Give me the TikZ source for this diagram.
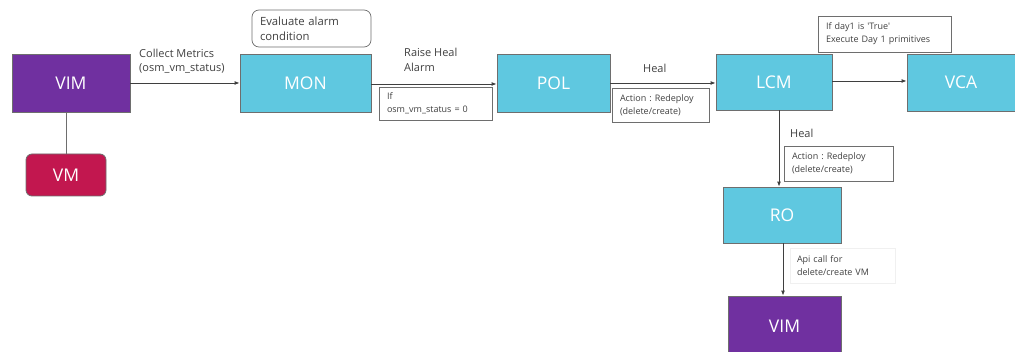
\documentclass[tikz,border=0pt]{standalone}
\usepackage{fontspec}
\setmainfont{Open Sans}
\usetikzlibrary{positioning}
\usetikzlibrary{arrows.meta}
\definecolor{vimpurple}{HTML}{7030A0}
\definecolor{osmcyan}{HTML}{5FC8E0}
\definecolor{vmred}{HTML}{C2174F}
\definecolor{edgegray}{HTML}{6E6E6E}
\definecolor{linegray}{HTML}{3F3F3F}
\definecolor{txtgray}{HTML}{404040}
\frenchspacing

\begin{document}
\begin{tikzpicture}[
    x=1pt, y=-1pt,
    block/.style={rectangle, draw=edgegray, line width=0.8pt, text=white, inner sep=0pt, font=\fontsize{17.5}{21}\selectfont},
    osm/.style={block, fill=osmcyan},
    vim/.style={block, fill=vimpurple},
    note/.style={rectangle, draw=edgegray, line width=0.7pt, fill=white, align=left, text=txtgray, inner xsep=8pt, inner ysep=0pt, font=\fontsize{9}{13}\selectfont},
    lbl/.style={align=left, text=txtgray, anchor=west, inner sep=0pt, font=\fontsize{11}{14.5}\selectfont},
    >={Latex[length=5pt,width=4pt]},
    flow/.style={->, draw=linegray, line width=0.9pt}
]
    \useasboundingbox (0,0) rectangle (1015,352);

    % main blocks
    \node[vim, minimum width=118pt, minimum height=58pt] (vim) at (71,83) {VIM};
    \node[block, fill=vmred, rounded corners=6pt, minimum width=80pt, minimum height=42pt] (vm) at (66,175) {VM};
    \node[osm, minimum width=131pt, minimum height=58pt] (mon) at (305.5,83) {MON};
    \node[osm, minimum width=113pt, minimum height=58pt] (pol) at (553.5,83) {POL};
    \node[osm, minimum width=116pt, minimum height=56pt] (lcm) at (774,82) {LCM};
    \node[osm, minimum width=108pt, minimum height=57pt] (vca) at (961,82.5) {VCA};
    \node[osm, minimum width=118pt, minimum height=56pt] (ro) at (782,215) {RO};
    \node[vim, minimum width=113pt, minimum height=60pt] (vimro) at (784.5,326) {VIM};

    % notes
    \node[note, rounded corners=7pt, text width=103pt, minimum height=37pt, font=\fontsize{11.3}{15}\selectfont] (eval) at (311.5,28.5) {Evaluate alarm\\condition};
    \node[note, text width=97pt, minimum height=33pt] (cond) at (435.5,103.5) {If\\osm\_vm\_status = 0};
    \node[note, text width=81pt, minimum height=34pt] (act1) at (660.5,105) {Action : Redeploy\\(delete/create)};
    \node[note, text width=93pt, minimum height=35pt] (act2) at (838.5,163.5) {Action : Redeploy\\(delete/create)};
    \node[note, text width=117pt, minimum height=36pt] (day1) at (884.5,34) {If day1 is \textquotesingle True\textquotesingle\\Execute Day 1 primitives};
    \node[note, draw=gray!12, inner xsep=7pt, text width=91pt, minimum height=35pt] (api) at (842.5,265.5) {Api call for\\delete/create VM};

    % edge labels
    \node[lbl] (collect) at (139,61) {Collect Metrics\\(osm\_vm\_status)};
    \node[lbl] (raise) at (404,60) {Raise Heal\\Alarm};
    \node[lbl] (heal1) at (643,68) {Heal};
    \node[lbl] (heal2) at (790,133) {Heal};

    % connectors
    \draw[draw=edgegray, line width=0.9pt] (vm.north) -- (vm.north |- vim.south);
    \draw[flow] (vim.east) -- (mon.west);
    \draw[flow] ([yshift=-1pt]mon.east) -- ([yshift=-1pt]mon.east -| pol.west);
    \draw[flow] (pol.east) -- (pol.east -| lcm.west);
    \draw[flow] ([yshift=1pt]lcm.east) -- ([yshift=1pt]lcm.east -| vca.west);
    \draw[flow] ([xshift=5pt]lcm.south) -- ([xshift=5pt]lcm.south |- ro.north);
    \draw[flow] ([xshift=1pt]ro.south) -- ([xshift=1pt]ro.south |- vimro.north);
\end{tikzpicture}
\end{document}
